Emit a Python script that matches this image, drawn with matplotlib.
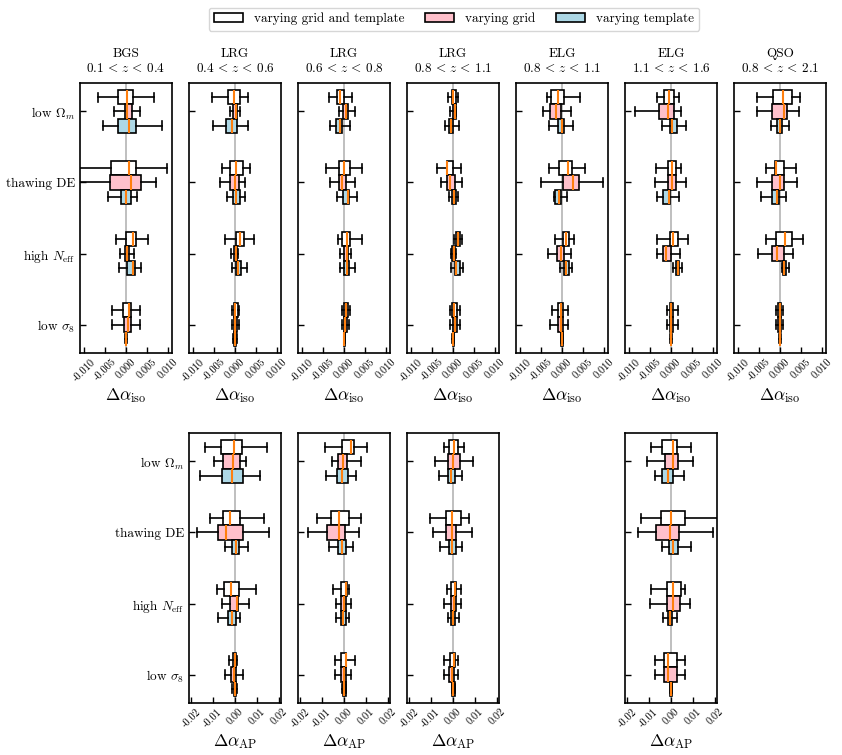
import matplotlib.pyplot as plt
from matplotlib.patches import Patch
from matplotlib.ticker import FormatStrFormatter

plt.rcParams['font.family'] = 'serif'
plt.rcParams['font.serif'] = ['cmr10']
plt.rcParams['mathtext.fontset'] = 'cm'
plt.rcParams['axes.formatter.use_mathtext'] = True
plt.rcParams['font.size'] = 9.5

params = ['low $\\Omega_m$', 'thawing DE', 'high $N_{\\rm eff}$', 'low $\\sigma_8$']
variants = ['varying grid and template', 'varying grid', 'varying template']
colors = ['white', 'pink', 'lightblue']

tracers = ['BGS', 'LRG', 'LRG', 'LRG', 'ELG', 'ELG', 'QSO']
zranges = ['0.1 < z < 0.4', '0.4 < z < 0.6', '0.6 < z < 0.8', '0.8 < z < 1.1',
           '0.8 < z < 1.1', '1.1 < z < 1.6', '0.8 < z < 2.1']

iso_ticks = [-0.010, -0.005, 0.0, 0.005, 0.010]
ap_ticks = [-0.02, -0.01, 0.0, 0.01, 0.02]

# rows: whislo, q1, median, q3, whishi
# order: (low Om, thawing DE, high Neff, low s8) x (grid+template, grid, template)
iso_bgs = [
    [-0.0066, -0.0018, 0.0002, 0.0016, 0.0067],
    [-0.0028, -0.0003, 0.0002, 0.0014, 0.0033],
    [-0.0054, -0.0018, 0.0006, 0.0024, 0.0085],
    [-0.0140, -0.0037, 0.0006, 0.0024, 0.0097],
    [-0.0130, -0.0038, 0.0012, 0.0035, 0.0072],
    [-0.0044, -0.0012, 0.0000, 0.0012, 0.0027],
    [-0.0025, -0.0001, 0.0016, 0.0025, 0.0052],
    [-0.0014, -0.0002, 0.0003, 0.0006, 0.0018],
    [-0.0016, 0.0002, 0.0016, 0.0022, 0.0037],
    [-0.0034, -0.0006, 0.0006, 0.0012, 0.0033],
    [-0.0034, -0.0005, 0.0004, 0.0012, 0.0033],
    [-0.0002, -0.0001, 0.0000, 0.0001, 0.0002],
]
iso_lrg1 = [
    [-0.0055, -0.0016, -0.0002, 0.0011, 0.0031],
    [-0.0013, -0.0005, 0.0002, 0.0005, 0.0013],
    [-0.0052, -0.0021, -0.0007, 0.0005, 0.0031],
    [-0.0030, -0.0011, 0.0002, 0.0019, 0.0035],
    [-0.0037, -0.0011, 0.0000, 0.0010, 0.0023],
    [-0.0019, -0.0005, 0.0003, 0.0011, 0.0025],
    [-0.0025, 0.0002, 0.0011, 0.0022, 0.0045],
    [-0.0009, -0.0003, 0.0002, 0.0005, 0.0008],
    [-0.0008, 0.0002, 0.0008, 0.0015, 0.0029],
    [-0.0006, -0.0003, 0.0001, 0.0007, 0.0010],
    [-0.0006, -0.0003, 0.0001, 0.0005, 0.0010],
    [-0.0004, -0.0002, 0.0000, 0.0003, 0.0005],
]
iso_lrg2 = [
    [-0.0036, -0.0017, -0.0009, -0.0001, 0.0018],
    [-0.0013, -0.0002, 0.0004, 0.0010, 0.0026],
    [-0.0034, -0.0018, -0.0010, -0.0005, 0.0014],
    [-0.0044, -0.0012, 0.0001, 0.0014, 0.0044],
    [-0.0034, -0.0013, -0.0004, 0.0004, 0.0026],
    [-0.0016, -0.0002, 0.0010, 0.0013, 0.0032],
    [-0.0014, -0.0004, 0.0007, 0.0014, 0.0042],
    [-0.0010, -0.0001, 0.0006, 0.0009, 0.0016],
    [-0.0010, -0.0001, 0.0006, 0.0012, 0.0027],
    [-0.0005, 0.0000, 0.0004, 0.0009, 0.0014],
    [-0.0005, -0.0001, 0.0002, 0.0007, 0.0013],
    [-0.0001, 0.0000, 0.0001, 0.0002, 0.0003],
]
iso_lrg3 = [
    [-0.0011, -0.0003, 0.0001, 0.0007, 0.0013],
    [-0.0006, 0.0000, 0.0004, 0.0006, 0.0008],
    [-0.0018, -0.0009, -0.0004, 0.0001, 0.0015],
    [-0.0038, -0.0015, -0.0014, -0.0001, 0.0018],
    [-0.0029, -0.0014, -0.0007, 0.0005, 0.0021],
    [-0.0009, -0.0003, 0.0002, 0.0007, 0.0012],
    [0.0002, 0.0007, 0.0013, 0.0016, 0.0022],
    [-0.0005, -0.0002, 0.0003, 0.0005, 0.0007],
    [-0.0005, 0.0004, 0.0007, 0.0017, 0.0024],
    [-0.0006, -0.0002, 0.0003, 0.0010, 0.0017],
    [-0.0006, -0.0001, 0.0004, 0.0009, 0.0017],
    [-0.0002, -0.0001, 0.0000, 0.0002, 0.0003],
]
iso_elg1 = [
    [-0.0037, -0.0027, -0.0010, 0.0005, 0.0044],
    [-0.0045, -0.0029, -0.0014, -0.0002, 0.0021],
    [-0.0030, -0.0010, 0.0000, 0.0005, 0.0026],
    [-0.0032, -0.0008, 0.0014, 0.0024, 0.0054],
    [-0.0051, 0.0002, 0.0027, 0.0041, 0.0099],
    [-0.0020, -0.0016, -0.0008, -0.0002, 0.0012],
    [-0.0017, 0.0002, 0.0010, 0.0017, 0.0029],
    [-0.0034, -0.0011, -0.0003, 0.0005, 0.0021],
    [-0.0004, 0.0005, 0.0010, 0.0016, 0.0025],
    [-0.0025, -0.0010, -0.0002, 0.0002, 0.0014],
    [-0.0028, -0.0010, -0.0002, 0.0002, 0.0014],
    [-0.0003, -0.0002, 0.0000, 0.0002, 0.0003],
]
iso_elg2 = [
    [-0.0033, -0.0017, -0.0005, 0.0008, 0.0020],
    [-0.0086, -0.0029, -0.0006, 0.0007, 0.0024],
    [-0.0021, -0.0002, 0.0003, 0.0015, 0.0037],
    [-0.0037, -0.0008, 0.0003, 0.0011, 0.0024],
    [-0.0038, -0.0006, 0.0003, 0.0013, 0.0037],
    [-0.0034, -0.0019, -0.0005, -0.0002, 0.0020],
    [-0.0034, -0.0003, 0.0004, 0.0017, 0.0040],
    [-0.0034, -0.0018, -0.0012, 0.0001, 0.0021],
    [0.0004, 0.0011, 0.0016, 0.0019, 0.0027],
    [-0.0009, -0.0003, 0.0000, 0.0004, 0.0016],
    [-0.0009, -0.0003, 0.0000, 0.0004, 0.0016],
    [-0.0002, -0.0001, 0.0000, 0.0001, 0.0002],
]
iso_qso = [
    [-0.0055, -0.0017, 0.0006, 0.0028, 0.0047],
    [-0.0055, -0.0018, 0.0010, 0.0017, 0.0045],
    [-0.0021, -0.0006, -0.0001, 0.0005, 0.0021],
    [-0.0033, -0.0012, -0.0009, 0.0010, 0.0038],
    [-0.0055, -0.0018, 0.0000, 0.0010, 0.0040],
    [-0.0045, -0.0018, -0.0006, -0.0002, 0.0014],
    [-0.0033, -0.0010, 0.0013, 0.0029, 0.0054],
    [-0.0053, -0.0018, -0.0007, 0.0010, 0.0030],
    [0.0005, 0.0006, 0.0010, 0.0014, 0.0022],
    [-0.0010, -0.0005, -0.0001, 0.0002, 0.0006],
    [-0.0010, -0.0005, -0.0001, 0.0002, 0.0006],
    [-0.0002, -0.0001, -0.0001, 0.0001, 0.0002],
]

ap_lrg1 = [
    [-0.0139, -0.0064, -0.0004, 0.0030, 0.0145],
    [-0.0094, -0.0054, -0.0007, 0.0025, 0.0048],
    [-0.0158, -0.0061, -0.0015, 0.0036, 0.0112],
    [-0.0113, -0.0054, -0.0024, 0.0025, 0.0133],
    [-0.0173, -0.0079, -0.0042, 0.0036, 0.0155],
    [-0.0045, -0.0012, 0.0003, 0.0018, 0.0060],
    [-0.0084, -0.0049, -0.0016, 0.0018, 0.0096],
    [-0.0060, -0.0022, 0.0010, 0.0015, 0.0066],
    [-0.0078, -0.0031, -0.0015, 0.0004, 0.0025],
    [-0.0027, -0.0009, 0.0000, 0.0006, 0.0010],
    [-0.0045, -0.0019, -0.0004, 0.0003, 0.0036],
    [-0.0012, -0.0006, 0.0001, 0.0006, 0.0010],
]
ap_lrg2 = [
    [-0.0087, -0.0007, 0.0030, 0.0045, 0.0105],
    [-0.0057, -0.0027, -0.0003, 0.0015, 0.0079],
    [-0.0080, -0.0030, -0.0007, 0.0018, 0.0055],
    [-0.0122, -0.0061, -0.0025, 0.0025, 0.0078],
    [-0.0164, -0.0079, -0.0025, 0.0004, 0.0067],
    [-0.0067, -0.0027, -0.0007, 0.0010, 0.0040],
    [-0.0048, -0.0013, 0.0007, 0.0015, 0.0022],
    [-0.0037, -0.0013, 0.0000, 0.0009, 0.0030],
    [-0.0037, -0.0013, -0.0003, 0.0007, 0.0025],
    [-0.0040, -0.0013, 0.0007, 0.0010, 0.0052],
    [-0.0042, -0.0013, 0.0000, 0.0007, 0.0030],
    [-0.0008, -0.0005, 0.0002, 0.0007, 0.0010],
]
ap_lrg3 = [
    [-0.0041, -0.0018, 0.0005, 0.0024, 0.0050],
    [-0.0083, -0.0023, 0.0002, 0.0030, 0.0090],
    [-0.0066, -0.0021, -0.0008, 0.0009, 0.0042],
    [-0.0105, -0.0033, -0.0003, 0.0035, 0.0072],
    [-0.0093, -0.0030, -0.0003, 0.0015, 0.0087],
    [-0.0060, -0.0018, -0.0006, 0.0015, 0.0039],
    [-0.0026, -0.0008, 0.0009, 0.0015, 0.0036],
    [-0.0039, -0.0011, 0.0005, 0.0015, 0.0036],
    [-0.0023, -0.0011, 0.0002, 0.0009, 0.0029],
    [-0.0039, -0.0012, 0.0003, 0.0009, 0.0023],
    [-0.0042, -0.0017, -0.0003, 0.0005, 0.0023],
    [-0.0006, -0.0005, 0.0002, 0.0008, 0.0009],
]
ap_elg2 = [
    [-0.0092, -0.0042, 0.0011, 0.0026, 0.0090],
    [-0.0110, -0.0027, 0.0011, 0.0030, 0.0100],
    [-0.0072, -0.0042, -0.0012, 0.0008, 0.0060],
    [-0.0137, -0.0047, -0.0002, 0.0066, 0.0250],
    [-0.0152, -0.0069, -0.0005, 0.0036, 0.0192],
    [-0.0039, -0.0009, 0.0011, 0.0033, 0.0093],
    [-0.0090, -0.0020, 0.0011, 0.0044, 0.0063],
    [-0.0095, -0.0020, 0.0011, 0.0041, 0.0086],
    [-0.0035, -0.0015, -0.0005, 0.0003, 0.0026],
    [-0.0075, -0.0032, -0.0012, 0.0026, 0.0066],
    [-0.0075, -0.0032, -0.0012, 0.0026, 0.0066],
    [-0.0005, -0.0003, 0.0000, 0.0004, 0.0006],
]

iso_panels = [iso_bgs, iso_lrg1, iso_lrg2, iso_lrg3, iso_elg1, iso_elg2, iso_qso]
ap_panels = {1: ap_lrg1, 2: ap_lrg2, 3: ap_lrg3, 5: ap_elg2}


def draw_panel(ax, rows, ticks, fmt, lim, label, show_names):
    ax.axvline(0, color='grey', alpha=0.5, lw=1.4, zorder=0)
    for j in range(len(params)):
        for k in range(len(variants)):
            lo, q1, med, q3, hi = rows[3 * j + k]
            stats = [dict(whislo=lo, q1=q1, med=med, q3=q3, whishi=hi, fliers=[])]
            ax.bxp(stats, positions=[j + (k - 1) * 0.2], widths=0.2, capwidths=0.13,
                   orientation='horizontal', patch_artist=True, showfliers=False,
                   manage_ticks=False,
                   boxprops=dict(facecolor=colors[k], edgecolor='black', lw=1.2),
                   whiskerprops=dict(color='black', lw=1.2),
                   capprops=dict(color='black', lw=1.2),
                   medianprops=dict(color='#ff7f0e', lw=1.5))
    ax.set_ylim(3.4, -0.4)
    ax.set_xlim(-lim, lim)
    ax.set_yticks(range(len(params)))
    if show_names:
        ax.set_yticklabels(params, fontsize=9.5)
    else:
        ax.set_yticklabels([])
    ax.set_xticks(ticks)
    ax.xaxis.set_major_formatter(FormatStrFormatter(fmt))
    ax.tick_params(direction='in', length=4, width=1)
    ax.tick_params(axis='x', labelsize=7.5, labelrotation=45, pad=3)
    ax.set_xlabel(label, fontsize=12.5, labelpad=2)
    for s in ax.spines.values():
        s.set_linewidth(1.2)


W, H = 842, 755
fig = plt.figure(figsize=(W / 100, H / 100), dpi=100)

for i, rows in enumerate(iso_panels):
    ax = fig.add_axes([(80 + 109 * i) / W, 1 - 353 / H, 92 / W, 270 / H])
    draw_panel(ax, rows, iso_ticks, '%.3f', 0.011, '$\\Delta\\alpha_{\\rm iso}$', i == 0)
    zr = zranges[i].replace('<', '\\,<\\,')
    ax.set_title(tracers[i] + '\n$' + zr + '$', fontsize=9.5, linespacing=1.15, pad=8)

first = min(ap_panels)
for i, rows in ap_panels.items():
    ax = fig.add_axes([(80 + 109 * i) / W, 1 - 703 / H, 92 / W, 270 / H])
    draw_panel(ax, rows, ap_ticks, '%.2f', 0.021, '$\\Delta\\alpha_{\\rm AP}$', i == first)

handles = [Patch(facecolor=c, edgecolor='black', lw=1.2) for c in colors]
fig.legend(handles, variants, loc='upper center', bbox_to_anchor=(454 / W, 1 - 1 / H),
           ncol=3, fontsize=9.5, handlelength=2.2, columnspacing=1.6)

fig.savefig('out.png', dpi=100)
